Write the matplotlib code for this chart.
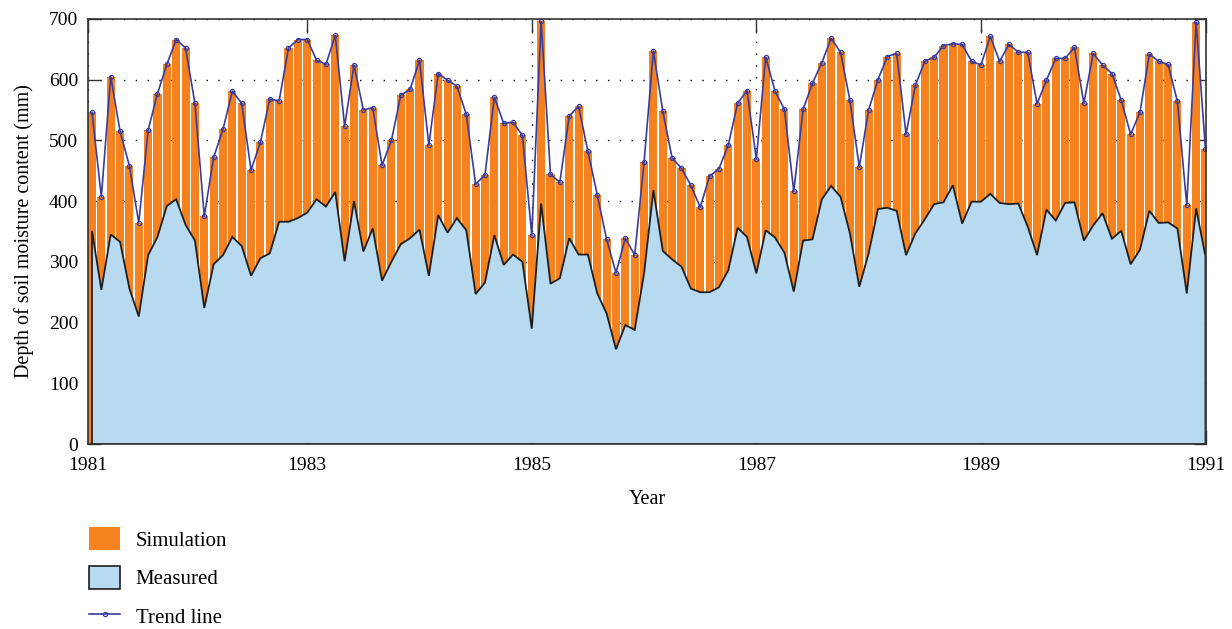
import numpy as np
import matplotlib.pyplot as plt
from matplotlib.patches import Patch
from matplotlib.lines import Line2D

plt.rcParams['font.family'] = ['Liberation Serif', 'DejaVu Serif']

# monthly soil moisture depth (mm), Jan 1981 - Dec 1990
simulation = [546, 407, 605, 515, 458, 364, 517, 577, 625, 666, 652, 561,
              375, 472, 518, 581, 561, 451, 497, 568, 565, 652, 666, 666,
              632, 625, 673, 523, 624, 550, 554, 459, 500, 574, 584, 632,
              492, 610, 599, 589, 543, 428, 443, 571, 528, 530, 508, 344,
              696, 444, 431, 540, 556, 482, 410, 337, 282, 339, 311, 464,
              647, 548, 471, 454, 426, 390, 441, 453, 492, 561, 582, 469,
              637, 581, 551, 416, 551, 594, 628, 668, 645, 566, 456, 550,
              600, 638, 643, 510, 591, 630, 637, 656, 659, 658, 630, 624,
              671, 630, 658, 645, 645, 560, 599, 635, 635, 653, 561, 643,
              624, 610, 566, 510, 546, 642, 630, 625, 564, 393, 695, 485]

measured = [351, 254, 345, 333, 256, 210, 311, 341, 392, 403, 361, 335,
            224, 296, 311, 341, 326, 277, 306, 314, 366, 366, 372, 381,
            403, 391, 415, 301, 400, 317, 355, 269, 300, 329, 339, 353,
            277, 377, 348, 372, 352, 247, 266, 344, 295, 312, 300, 190,
            396, 264, 273, 339, 312, 312, 248, 215, 156, 196, 188, 281,
            418, 318, 304, 292, 256, 250, 250, 258, 286, 356, 341, 281,
            352, 340, 315, 251, 335, 337, 403, 425, 407, 347, 259, 314,
            387, 389, 384, 311, 347, 370, 395, 398, 426, 363, 399, 399,
            412, 397, 395, 396, 358, 311, 386, 368, 397, 398, 335, 360,
            380, 338, 351, 296, 320, 384, 364, 365, 355, 248, 388, 309]

year_labels = ['1981', '1983', '1985', '1987', '1989', '1991']

orange = '#f5821f'
light_blue = '#b8daf1'
trend_col = '#3b3b9c'

months = np.arange(len(simulation))

fig = plt.figure(figsize=(12.32, 6.29), dpi=100)
ax = fig.add_axes([0.0714, 0.294, 0.9073, 0.676])

ax.bar(months, simulation, width=0.86, color=orange, zorder=2)
ax.fill(np.r_[months[0], months, months[-1]], np.r_[0, measured, 0],
        facecolor=light_blue, edgecolor='#1e1e1e', lw=1.3, zorder=3)
ax.plot(months, simulation, color=trend_col, lw=1.2, marker='o', ms=3,
        mfc='none', mew=0.9, zorder=4)

x0, x1 = -0.43, 119.03
ax.set_xlim(x0, x1)
ax.set_ylim(0, 700)
ax.set_xticks([x0, 23, 47, 71, 95, x1])
ax.set_xticklabels(year_labels)
ax.set_yticks(range(0, 701, 100))

ax.set_axisbelow(True)
ax.grid(True, color='k', lw=1.0, linestyle=(0, (1, 7.5)), zorder=0)

for s in ax.spines.values():
    s.set_color('#333333')
    s.set_linewidth(1.2)
    s.set_zorder(5)
ax.tick_params(direction='in', top=True, right=True, labelsize=14,
               color='#333333', width=1.0)
ax.tick_params(axis='x', length=10, pad=9)
ax.tick_params(axis='y', length=9, pad=7)

ax.set_xlabel('Year', fontsize=14.5, labelpad=12)
ax.set_ylabel('Depth of soil moisture content (mm)', fontsize=14.5, labelpad=11)

handles = [Patch(facecolor=orange, edgecolor='none'),
           Patch(facecolor=light_blue, edgecolor='#1e1e1e', lw=1.2),
           Line2D([], [], color=trend_col, lw=1.2, marker='o', ms=3,
                  mfc='none', mew=0.9)]
fig.legend(handles, ['Simulation', 'Measured', 'Trend line'],
           loc='upper left', bbox_to_anchor=(0.0722, 0.162), frameon=False,
           fontsize=15, handlelength=1.5, handleheight=1.35,
           handletextpad=0.75, labelspacing=0.72, borderpad=0,
           borderaxespad=0, numpoints=1)

fig.savefig('out.png', dpi=100)
